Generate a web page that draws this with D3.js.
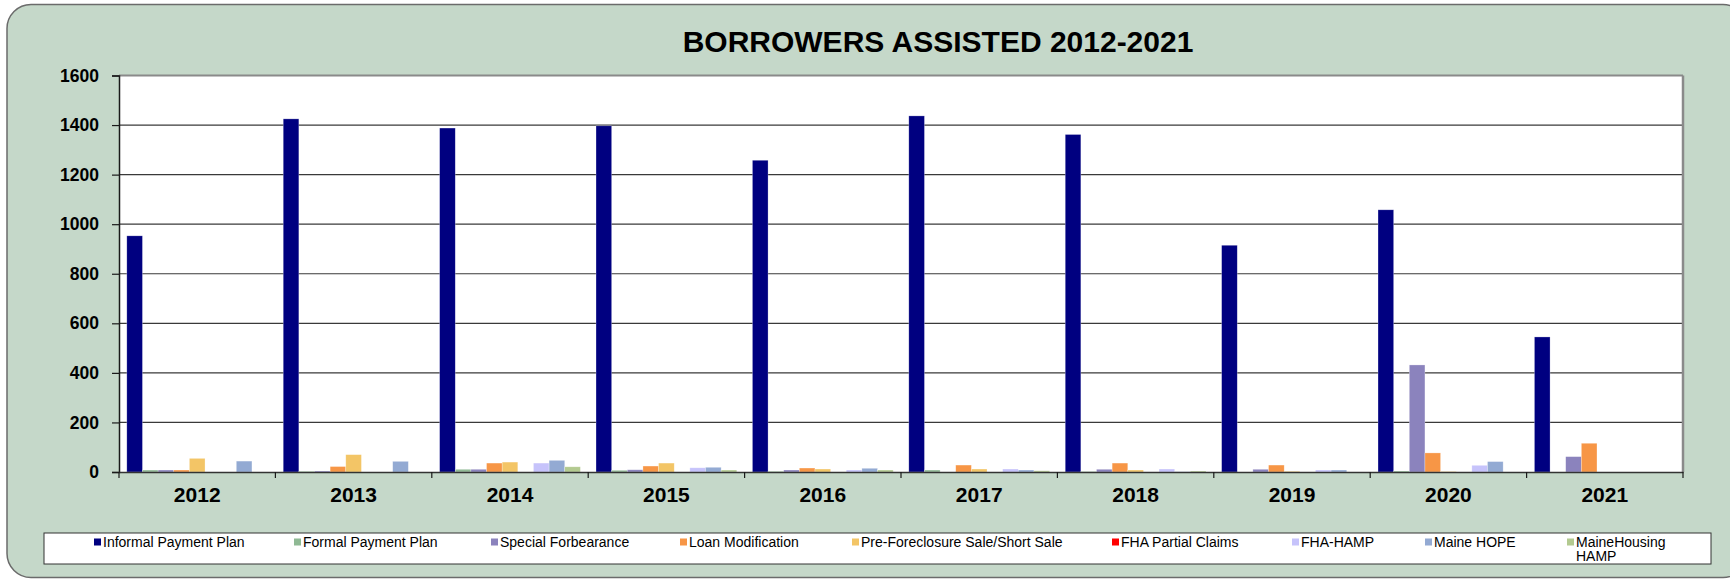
<!DOCTYPE html>
<html>
<head>
<meta charset="utf-8">
<script src="https://cdn.jsdelivr.net/npm/d3@7"></script>
<style>
  html, body { margin: 0; padding: 0; background: #ffffff; }
  svg { display: block; }
  text { font-family: "Liberation Sans", Arial, sans-serif; }
</style>
</head>
<body>
<svg id="chart" width="1730" height="579"></svg>
<script>
// Borrowers assisted per year, by type of assistance
const years = ["2012", "2013", "2014", "2015", "2016", "2017", "2018", "2019", "2020", "2021"];

const seriesNames = [
  "Informal Payment Plan", "Formal Payment Plan", "Special Forbearance", "Loan Modification",
  "Pre-Foreclosure Sale/Short Sale", "FHA Partial Claims", "FHA-HAMP", "Maine HOPE", "MaineHousing HAMP"
];

const informalPaymentPlan = [953, 1425, 1388, 1397, 1258, 1437, 1362, 915, 1058, 545];
const formalPaymentPlan   = [8, 3, 11, 7, 3, 8, 2, 0, 4, 0];
const specialForbearance  = [8, 4, 11, 9, 8, 0, 11, 11, 432, 62];
const loanModification    = [8, 22, 36, 24, 16, 28, 36, 28, 77, 116];
const preForeclosureSale  = [55, 70, 40, 36, 12, 12, 8, 3, 2, 0];
const fhaPartialClaims    = [0, 0, 0, 0, 0, 0, 0, 0, 0, 0];
const fhaHamp             = [0, 0, 36, 17, 8, 12, 12, 8, 27, 0];
const maineHope           = [44, 43, 47, 19, 15, 8, 1, 8, 42, 0];
const maineHousingHamp    = [0, 0, 21, 8, 8, 5, 4, 0, 0, 0];

const yTicks = [0, 200, 400, 600, 800, 1000, 1200, 1400, 1600];

const seriesValues = [
  informalPaymentPlan, formalPaymentPlan, specialForbearance, loanModification,
  preForeclosureSale, fhaPartialClaims, fhaHamp, maineHope, maineHousingHamp
];
const seriesColors = [
  "#000080", "#8fb994", "#8b83bd", "#f79646", "#f3c566",
  "#ff0000", "#c6c3fb", "#93aad3", "#b3ca90"
];

// ---- layout ----
const plot = { left: 119, right: 1683, top: 75.5, bottom: 472 };

const svg = d3.select("#chart");

// chart area background
svg.append("rect")
  .attr("x", 7).attr("y", 4.5)
  .attr("width", 1740).attr("height", 573)
  .attr("rx", 24).attr("ry", 24)
  .attr("fill", "#c5d8c9")
  .attr("stroke", "#6b6b6b").attr("stroke-width", 1.5);

// title
svg.append("text")
  .attr("x", 938).attr("y", 52)
  .attr("text-anchor", "middle")
  .attr("font-size", 30).attr("font-weight", "bold")
  .attr("fill", "#000")
  .text("BORROWERS ASSISTED 2012-2021");

// scales
const x0 = d3.scaleBand().domain(years).range([plot.left, plot.right]).paddingInner(0).paddingOuter(0);
const x1 = d3.scaleBand().domain(seriesNames).range([0, x0.bandwidth()]).paddingInner(0).paddingOuter(0.5);
const y = d3.scaleLinear().domain([0, 1600]).range([plot.bottom, plot.top]);

// plot area
svg.append("rect")
  .attr("x", plot.left).attr("y", plot.top)
  .attr("width", plot.right - plot.left).attr("height", plot.bottom - plot.top)
  .attr("fill", "#ffffff");

// horizontal gridlines
svg.append("g")
  .selectAll("line")
  .data(yTicks.filter(t => t > 0 && t < 1600))
  .join("line")
  .attr("x1", plot.left).attr("x2", plot.right)
  .attr("y1", d => y(d)).attr("y2", d => y(d))
  .attr("stroke", "#3a3a3a").attr("stroke-width", 1.2);

// top and right frame
svg.append("line")
  .attr("x1", plot.left).attr("x2", plot.right)
  .attr("y1", y(1600)).attr("y2", y(1600))
  .attr("stroke", "#8a8a8a").attr("stroke-width", 2);
svg.append("line")
  .attr("x1", plot.right).attr("x2", plot.right)
  .attr("y1", plot.top).attr("y2", plot.bottom)
  .attr("stroke", "#8a8a8a").attr("stroke-width", 2.5);

// bars
const groups = svg.append("g")
  .selectAll("g")
  .data(years)
  .join("g")
  .attr("transform", d => `translate(${x0(d)},0)`);

groups.selectAll("rect")
  .data((yr, i) => seriesNames.map((name, s) => ({ name, value: seriesValues[s][i], color: seriesColors[s] })))
  .join("rect")
  .attr("x", d => x1(d.name))
  .attr("width", x1.bandwidth())
  .attr("y", d => y(d.value))
  .attr("height", d => y(0) - y(d.value))
  .attr("fill", d => d.color)
  .attr("stroke", "rgba(255,255,255,0.45)")
  .attr("stroke-width", 0.6);

// y axis
const yAxis = svg.append("g")
  .attr("transform", `translate(${plot.left},0)`)
  .call(d3.axisLeft(y).tickValues(yTicks).tickSize(7).tickPadding(13).tickFormat(d3.format("d")));
yAxis.select(".domain").attr("stroke", "#1a1a1a").attr("stroke-width", 1.5);
yAxis.selectAll(".tick line").attr("stroke", "#1a1a1a").attr("stroke-width", 1.2);
yAxis.selectAll(".tick text")
  .attr("font-family", "Liberation Sans, Arial, sans-serif")
  .attr("font-size", 17.5).attr("font-weight", "bold").attr("fill", "#000");

// x axis
const xAxis = svg.append("g")
  .attr("transform", `translate(0,${plot.bottom})`)
  .call(d3.axisBottom(x0).tickSize(0).tickPadding(15));
xAxis.select(".domain").attr("stroke", "#333").attr("stroke-width", 1.5);
xAxis.selectAll(".tick text")
  .attr("font-family", "Liberation Sans, Arial, sans-serif")
  .attr("font-size", 21).attr("font-weight", "bold").attr("fill", "#000");

// category boundary ticks
svg.append("g")
  .selectAll("line")
  .data(years.concat(["end"]))
  .join("line")
  .attr("x1", (d, i) => plot.left + i * x0.step())
  .attr("x2", (d, i) => plot.left + i * x0.step())
  .attr("y1", plot.bottom).attr("y2", plot.bottom + 6)
  .attr("stroke", "#1a1a1a").attr("stroke-width", 1.2);

// legend
const legend = { left: 44, top: 533, width: 1667, height: 31 };
svg.append("rect")
  .attr("x", legend.left).attr("y", legend.top)
  .attr("width", legend.width).attr("height", legend.height)
  .attr("fill", "#ffffff").attr("stroke", "#333").attr("stroke-width", 1);

const legendX = [94, 294, 491, 680, 852, 1112, 1292, 1425, 1567];
const legendItems = svg.append("g")
  .selectAll("g")
  .data(seriesNames)
  .join("g")
  .attr("transform", (d, i) => `translate(${legendX[i]},${legend.top + 5})`);

legendItems.append("rect")
  .attr("x", 0).attr("y", 0.5)
  .attr("width", 7).attr("height", 7)
  .attr("fill", (d, i) => seriesColors[i]);

legendItems.append("text")
  .attr("x", 9).attr("y", 9)
  .attr("font-size", 14).attr("fill", "#000")
  .each(function (d) {
    const t = d3.select(this);
    const lines = d === "MaineHousing HAMP" ? ["MaineHousing", "HAMP"] : [d];
    lines.forEach((ln, k) => {
      t.append("tspan").attr("x", 9).attr("dy", k === 0 ? 0 : 13.5).text(ln);
    });
  });
</script>
</body>
</html>
